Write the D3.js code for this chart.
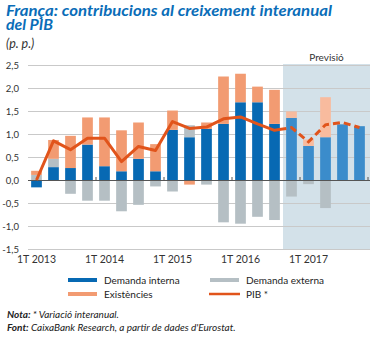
<!DOCTYPE html>
<html><head><meta charset="utf-8">
<script src="https://cdn.jsdelivr.net/npm/d3@7"></script>
<style>
body{margin:0;background:#fff;}
svg{display:block;font-family:Lato,"Open Sans",sans-serif;}
</style></head>
<body><svg id="c" width="377" height="338"></svg>
<script>
const quarters = ["2013Q1","2013Q2","2013Q3","2013Q4","2014Q1","2014Q2","2014Q3","2014Q4","2015Q1","2015Q2","2015Q3","2015Q4","2016Q1","2016Q2","2016Q3","2016Q4","2017Q1","2017Q2","2017Q3","2017Q4"];
const demandaInterna = [-0.16,0.28,0.26,0.77,0.30,0.19,0.46,0.19,1.09,0.93,1.11,1.22,1.69,1.69,1.22,1.35,0.74,0.93,1.21,1.17];
const demandaExterna = [0.11,0.18,-0.30,-0.45,-0.45,-0.68,-0.54,-0.14,-0.25,0.26,-0.10,-0.92,-0.95,-0.80,-0.87,-0.36,-0.09,-0.61,0,0];
const existencies   = [0.09,0.41,0.70,0.59,1.06,0.89,0.79,0.59,0.42,-0.10,0.14,1.03,0.62,0.34,0.74,0.14,0.14,0.87,0,0];
const pib           = [0.0,0.85,0.66,0.91,0.91,0.40,0.73,0.64,1.27,1.12,1.15,1.33,1.37,1.22,1.08,1.14,0.83,1.20,1.25,1.14];
const forecastStart = "2016Q4";
const yTicks = [-1.5,-1.0,-0.5,0,0.5,1.0,1.5,2.0,2.5];
const xLabels = {"2013Q1":"1T 2013","2014Q1":"1T 2014","2015Q1":"1T 2015","2016Q1":"1T 2016","2017Q1":"1T 2017"};
const seriesKeys = ["interna","externa","existencies"];
const seriesNames = {interna:"Demanda interna",externa:"Demanda externa",existencies:"Existències"};

const colors = {interna:"#0769b3",externa:"#b5bfc4",existencies:"#f29b72"};
const colorsF = {interna:"#3b8ccb",externa:"#b5bfc4",existencies:"#f8bb9e"};
const lineColor = "#e1541b";

const svg = d3.select("#c");
const x = d3.scaleBand().domain(quarters).range([28,368]).paddingInner(0.37).paddingOuter(0.185);
const y = d3.scaleLinear().domain([-1.5,2.5]).range([249,65]);
const fIdx = quarters.indexOf(forecastStart);
const fx0 = x(forecastStart) - x.step()*x.paddingInner()/2;
const fx1 = 370;

// title (one text, two lines)
const title = svg.append("text").attr("fill","#0a6db8")
  .style("font-weight","700").style("font-style","italic").style("font-size","16px");
title.append("tspan").attr("x",6).attr("y",16)
  .attr("textLength",326).attr("lengthAdjust","spacingAndGlyphs")
  .text("França: contribucions al creixement interanual");
title.append("tspan").attr("x",6).attr("y",30)
  .attr("textLength",47).attr("lengthAdjust","spacingAndGlyphs")
  .text("del PIB");
svg.append("text").attr("x",6).attr("y",48).attr("fill","#333")
  .style("font-style","italic").style("font-size","12.5px").text("(p. p.)");

// forecast shading
svg.append("rect").attr("x",fx0).attr("y",y(2.5)-1).attr("width",fx1-fx0).attr("height",y(-1.5)-y(2.5)+1)
  .attr("fill","#d3e1e9");
svg.append("text").attr("x",(fx0+fx1)/2).attr("y",61).attr("text-anchor","middle")
  .attr("fill","#333").style("font-size","10px").text("Previsió");

// grid
svg.append("g").selectAll("line").data(yTicks.filter(d=>d!==0)).join("line")
  .attr("x1",28).attr("x2",370).attr("y1",d=>y(d)+0.5).attr("y2",d=>y(d)+0.5)
  .attr("stroke","#c9c9c9").attr("stroke-width",1);
// y labels
svg.append("g").selectAll("text").data(yTicks).join("text")
  .attr("x",19).attr("y",d=>y(d)+3.5).attr("text-anchor","end")
  .attr("fill","#333").style("font-size","9.5px")
  .text(d=>d3.format(".1f")(d).replace(".",",").replace("−","-"));

// stacked bars
const rows = quarters.map((q,i)=>({q,interna:demandaInterna[i],externa:demandaExterna[i],existencies:existencies[i]}));
const stack = d3.stack().keys(seriesKeys).offset(d3.stackOffsetDiverging)(rows);
const gBars = svg.append("g");
stack.forEach(layer=>{
  gBars.selectAll(null).data(layer).join("rect")
    .attr("x",d=>x(d.data.q)).attr("width",x.bandwidth())
    .attr("y",d=>y(Math.max(d[0],d[1]))).attr("height",d=>Math.abs(y(d[0])-y(d[1])))
    .attr("fill",d=>quarters.indexOf(d.data.q)>=fIdx?colorsF[layer.key]:colors[layer.key]);
});

// zero axis
svg.append("line").attr("x1",28).attr("x2",370).attr("y1",y(0)+0.5).attr("y2",y(0)+0.5)
  .attr("stroke","#555").attr("stroke-width",1);
const yearTicks = quarters.filter(q=>q.endsWith("Q4")).map(q=>x(q)+x.bandwidth()+x.step()*x.paddingInner()/2);
svg.append("g").selectAll("line").data(yearTicks).join("line")
  .attr("x1",d=>d).attr("x2",d=>d).attr("y1",y(0)-3).attr("y2",y(0))
  .attr("stroke","#555").attr("stroke-width",1);
svg.append("g").selectAll("text").data(quarters.filter(q=>xLabels[q])).join("text")
  .attr("x",q=>x(q)+x.bandwidth()/2).attr("y",263).attr("text-anchor","middle")
  .attr("fill","#333").style("font-size","10.5px").text(q=>xLabels[q]);

// PIB line: solid for history, dashed for forecast
const defs = svg.append("defs");
defs.append("clipPath").attr("id","cSolid").append("rect").attr("x",0).attr("y",0).attr("width",fx0-2).attr("height",338);
defs.append("clipPath").attr("id","cDash").append("rect").attr("x",fx0-2).attr("y",0).attr("width",377).attr("height",338);
const pts = pib.map((v,i)=>({v,i}));
const line = d3.line().x(d=>x(quarters[d.i])+x.bandwidth()/2).y(d=>y(d.v));
svg.append("path").attr("d",line(pts.slice(0,fIdx+1))).attr("fill","none").attr("stroke",lineColor)
  .attr("stroke-width",3).attr("stroke-linejoin","round").attr("clip-path","url(#cSolid)");
svg.append("path").attr("d",line(pts.slice(fIdx-1)))
  .attr("fill","none").attr("stroke",lineColor).attr("stroke-width",3)
  .attr("stroke-dasharray","7,4").attr("stroke-dashoffset",-5).attr("clip-path","url(#cDash)");

// legend
const lg = svg.append("g");
const leg = [
  {k:"interna",x:68,y:280,type:"bar"},
  {k:"externa",x:210,y:280,type:"bar"},
  {k:"existencies",x:68,y:294,type:"bar"},
  {k:"pib",x:209,y:294,type:"line"}
];
leg.forEach(l=>{
  if(l.type==="bar"){
    lg.append("rect").attr("x",l.x).attr("y",l.y-2).attr("width",29).attr("height",4).attr("fill",colors[l.k]);
    lg.append("text").attr("x",l.x+36).attr("y",l.y+3.5).attr("fill","#222").style("font-size","10px").text(seriesNames[l.k]);
  } else {
    lg.append("line").attr("x1",l.x).attr("x2",l.x+31).attr("y1",l.y).attr("y2",l.y).attr("stroke",lineColor).attr("stroke-width",2.5);
    lg.append("text").attr("x",l.x+37).attr("y",l.y+3.5).attr("fill","#222").style("font-size","10px").text("PIB *");
  }
});

// notes
const n1 = svg.append("text").attr("x",7).attr("y",318).attr("fill","#222").style("font-size","10px").style("font-style","italic");
n1.append("tspan").style("font-weight","700").text("Nota: ");
n1.append("tspan").text("* Variació interanual.");
const n2 = svg.append("text").attr("x",7).attr("y",331).attr("fill","#222").style("font-size","10px").style("font-style","italic");
n2.append("tspan").style("font-weight","700").text("Font: ");
n2.append("tspan").text("CaixaBank Research, a partir de dades d'Eurostat.");
</script></body></html>
